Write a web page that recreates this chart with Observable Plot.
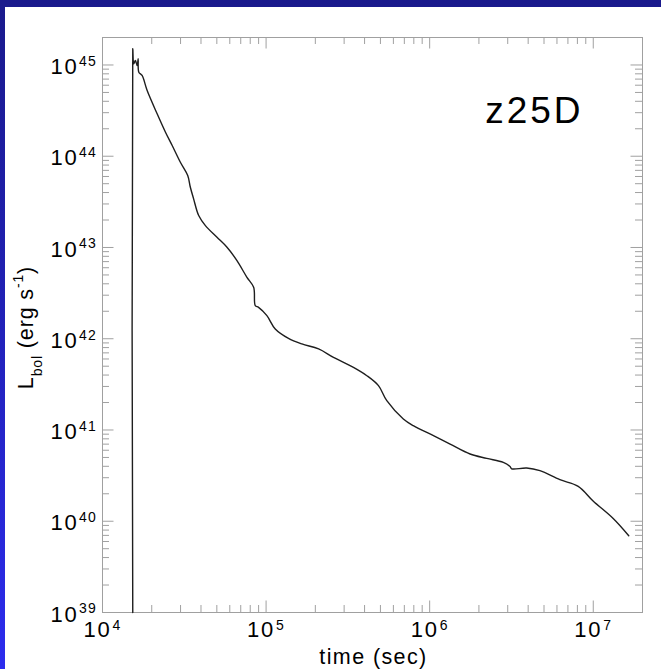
<!DOCTYPE html>
<html>
<head>
<meta charset="utf-8">
<script src="https://cdn.jsdelivr.net/npm/d3@7"></script>
<script src="https://cdn.jsdelivr.net/npm/@observablehq/plot@0.6"></script>
<style>
  html, body { margin: 0; padding: 0; }
  body {
    width: 661px; height: 669px; overflow: hidden; position: relative;
    background: linear-gradient(to bottom, #1a1a8c 0%, #2020b0 40%, #2c2cee 100%);
    font-family: "Liberation Sans", Arial, Helvetica, sans-serif;
  }
  #panel { position: absolute; left: 5px; top: 7px; width: 656px; height: 662px; background: #fff; }
  #panel svg text { letter-spacing: 0.08em; }
</style>
</head>
<body>
<div id="panel"></div>
<script>
// Light curve: log10(time / s) and log10(L_bol / erg s^-1)
const logTime = [
  4.185, 4.185, 4.191, 4.201, 4.212, 4.218, 4.222, 4.242, 4.273, 4.334,
  4.385, 4.426, 4.476, 4.521, 4.537, 4.557, 4.588, 4.629, 4.700, 4.761,
  4.822, 4.883, 4.924, 4.934, 4.954, 5.005, 5.056, 5.137, 5.219, 5.321,
  5.412, 5.534, 5.616, 5.687, 5.738, 5.839, 5.900, 6.023, 6.125, 6.247,
  6.349, 6.450, 6.491, 6.501, 6.593, 6.674, 6.796, 6.908, 6.999, 7.122,
  7.217
];
const logLbol = [
  39.000, 45.178, 45.013, 45.049, 44.994, 45.068, 44.921, 44.885, 44.720, 44.465,
  44.263, 44.117, 43.934, 43.788, 43.660, 43.533, 43.350, 43.240, 43.112, 43.002,
  42.856, 42.673, 42.564, 42.363, 42.344, 42.253, 42.107, 42.004, 41.943, 41.888,
  41.796, 41.686, 41.595, 41.486, 41.321, 41.121, 41.047, 40.938, 40.846, 40.737,
  40.689, 40.645, 40.600, 40.575, 40.583, 40.554, 40.455, 40.382, 40.222, 40.030,
  39.841
];

const xMajorTicks = [1e4, 1e5, 1e6, 1e7];
const yMajorTicks = [1e39, 1e40, 1e41, 1e42, 1e43, 1e44, 1e45];
const xDomain = [1e4, 2e7];
const yDomain = [1e39, 2e45];
const annotation = "z25D";
const xTitle = "time (sec)";

const xMinorTicks = [];
for (const d of [1e4, 1e5, 1e6]) for (let k = 2; k <= 9; k++) xMinorTicks.push(k * d);
const yMinorTicks = [];
for (const d of [1e39, 1e40, 1e41, 1e42, 1e43, 1e44]) for (let k = 2; k <= 9; k++) yMinorTicks.push(k * d);

const series = logTime.map((t, i) => ({time: 10 ** t, lbol: 10 ** logLbol[i]}));
const expo = d => String(Math.round(Math.log10(d)));

const W = 656, H = 662;
const mL = 97, mR = 19, mT = 30, mB = 57;
const fw = W - mL - mR, fh = H - mT - mB;
const tickColor = "#a0a0a0";
const majorLen = 11.5, minorLen = 7;

const chart = Plot.plot({
  width: W, height: H,
  marginLeft: mL, marginRight: mR, marginTop: mT, marginBottom: mB,
  style: {background: "#fff", fontFamily: '"Liberation Sans", Arial, Helvetica, sans-serif', overflow: "visible", color: "#000"},
  x: {type: "log", domain: xDomain, axis: null},
  y: {type: "log", domain: yDomain, axis: null},
  marks: [
    // inward ticks on all four sides
    Plot.tickX(xMajorTicks, {x: d => d, stroke: tickColor, insetTop: fh - majorLen}),
    Plot.tickX(xMinorTicks, {x: d => d, stroke: tickColor, insetTop: fh - minorLen}),
    Plot.tickX(xMajorTicks, {x: d => d, stroke: tickColor, insetBottom: fh - majorLen}),
    Plot.tickX(xMinorTicks, {x: d => d, stroke: tickColor, insetBottom: fh - minorLen}),
    Plot.tickY(yMajorTicks, {y: d => d, stroke: tickColor, insetRight: fw - majorLen}),
    Plot.tickY(yMinorTicks, {y: d => d, stroke: tickColor, insetRight: fw - minorLen}),
    Plot.tickY(yMajorTicks, {y: d => d, stroke: tickColor, insetLeft: fw - majorLen}),
    Plot.tickY(yMinorTicks, {y: d => d, stroke: tickColor, insetLeft: fw - minorLen}),
    Plot.frame({stroke: tickColor}),
    // the light curve
    Plot.line(series, {x: "time", y: "lbol", stroke: "#1e1e1e", strokeWidth: 1.4, curve: "catmull-rom"}),
    // x tick labels 10^n
    Plot.text(xMajorTicks, {x: d => d, frameAnchor: "bottom", text: () => "10", textAnchor: "end", dx: 9, dy: 24, fontSize: 22, fill: "#000"}),
    Plot.text(xMajorTicks, {x: d => d, frameAnchor: "bottom", text: expo, textAnchor: "start", dx: 10, dy: 17, fontSize: 14, fill: "#000"}),
    // y tick labels 10^n
    Plot.text(yMajorTicks, {y: d => d, frameAnchor: "left", text: () => "10", textAnchor: "end", dx: -24, dy: 2, fontSize: 22, fill: "#000"}),
    Plot.text(yMajorTicks, {y: d => d, frameAnchor: "left", text: expo, textAnchor: "start", dx: -23.5, dy: -3.5, fontSize: 14, fill: "#000"}),
    // x title
    Plot.text([xTitle], {frameAnchor: "bottom", text: d => d, textAnchor: "middle", lineAnchor: "bottom", dy: 51, dx: 1, fontSize: 21.5, fill: "#000"}),
    // annotation
    Plot.text([annotation], {frameAnchor: "top-right", text: d => d, textAnchor: "end", lineAnchor: "top", dx: -59, dy: 59, fontSize: 37, fill: "#000"})
  ]
});

document.getElementById("panel").appendChild(chart);

const svg = d3.select(chart);
svg.selectAll("text").filter(function () { return this.textContent === xTitle; })
  .style("letter-spacing", "0.065em");

// y-axis title with subscript and superscript
const yt = svg.append("text")
  .attr("transform", `translate(28, ${mT + fh / 2 + 3}) rotate(-90)`)
  .attr("text-anchor", "middle")
  .attr("font-size", 21.5)
  .attr("fill", "#000")
  .style("letter-spacing", "0.04em");
yt.append("tspan").text("L");
yt.append("tspan").attr("font-size", 14).attr("dy", 9).text("bol");
yt.append("tspan").attr("dy", -9).text(" (erg s");
yt.append("tspan").attr("font-size", 14).attr("dy", -10).text("-1");
yt.append("tspan").attr("dy", 10).text(")");
</script>
</body>
</html>
